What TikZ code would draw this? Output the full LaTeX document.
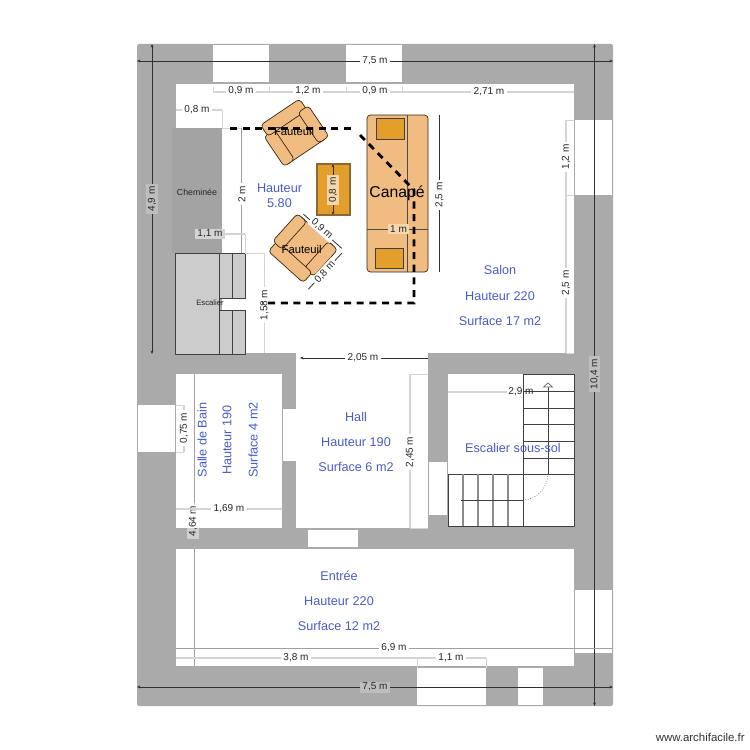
\documentclass[tikz,border=0pt]{standalone}
\usepackage{fontspec}
\setmainfont{Liberation Sans}
\usetikzlibrary{arrows.meta}
\definecolor{wallc}{HTML}{AAAAAA}
\definecolor{chimc}{HTML}{A3A3A3}
\definecolor{stairc}{HTML}{CCCCCC}
\definecolor{sofac}{HTML}{F0BC82}
\definecolor{cushc}{HTML}{E39E2C}
\definecolor{tableline}{HTML}{8A6A2E}
\definecolor{bluec}{HTML}{4A5CC9}
\definecolor{lightdim}{HTML}{D4D4D4}
\definecolor{middim}{HTML}{A0A0A0}
\definecolor{darkdim}{HTML}{303030}
\definecolor{lblgray}{HTML}{BEBEBE}
\definecolor{lbltan}{HTML}{F4D7AE}
\tikzset{
  x=0.02cm,y=-0.02cm,
  wallshape/.style={fill=wallc,draw=none,rounded corners=1.2pt},
  roomshape/.style={fill=white,draw=none},
  stairblock/.style={fill=stairc,draw=black!75,line width=0.45pt},
  stairline/.style={draw=black!75,line width=0.45pt},
  stairlight/.style={draw=black!45,line width=0.6pt},
  sofashape/.style={fill=sofac,draw=black!70!brown,line width=0.4pt,rounded corners=2pt},
  cushion/.style={fill=cushc,draw=black!75,line width=0.5pt},
  tablesh/.style={fill=cushc,draw=tableline,line width=0.6pt},
  roomlabel/.style={text=bluec,font=\fontsize{7.2}{8.6}\selectfont,inner sep=0pt,align=center},
  dimlabel/.style={font=\fontsize{5.7}{6.8}\selectfont,inner xsep=1.4pt,inner ysep=0.8pt,text=black!85,fill=white},
  dimlight/.style={draw=lightdim,line width=0.6pt},
  dimmid/.style={draw=middim,line width=0.45pt},
  dimdark/.style={draw=darkdim,line width=0.45pt},
  dimtick/.style={draw=lightdim,line width=0.4pt},
  tips/.style={{Stealth[length=2pt,width=1.6pt]}-{Stealth[length=2pt,width=1.6pt]}},
  onetip/.style={-{Stealth[length=2pt,width=1.6pt]}},
  dashline/.style={draw=black,line width=1.6pt,dash pattern=on 4pt off 3.2pt},
}
\newcommand{\dimline}[9]{%
  \coordinate (#1-a) at (#3);
  \coordinate (#1-b) at (#4);
  \draw[#2] (#1-a) -- (#1-b);
  \node[dimlabel,rotate=#6,fill=#7] (#1) at (#5) {#8#9};
}
% x, y, rotation, name, label x, label y
\newcommand{\armchair}[6]{%
  \begin{scope}[shift={(#1,#2)},rotate=#3]
    \draw[sofashape] (-24,-18) rectangle (24,18);
    \draw[sofashape] (-27,-18) rectangle (-14.5,18);
    \draw[sofashape] (-23.5,-29.5) rectangle (23.5,-16);
    \draw[sofashape] (14.5,-19) rectangle (27,18);
  \end{scope}
  \node[font=\fontsize{6.4}{7.6}\selectfont,inner sep=0pt] (#4) at (#5,#6) {Fauteuil};
}
\begin{document}
\begin{tikzpicture}
\useasboundingbox (0,0) rectangle (750,750);
\fill[white] (0,0) rectangle (750,750);
% walls
\draw[wallshape] (137,44) rectangle (613,706);
% rooms
\fill[roomshape] (176,84) rectangle (574,128);
\fill[roomshape] (222,128) rectangle (574,353);
\fill[roomshape] (296,353) rectangle (428,528);
\fill[roomshape] (176,374) rectangle (282,528);
\fill[roomshape] (448,374) rectangle (574,527);
\fill[roomshape] (176,549) rectangle (574,666);
% openings
\fill[roomshape] (213,45) rectangle (269,82);
\fill[roomshape] (346,45) rectangle (402,82);
\fill[roomshape] (575,120) rectangle (612,195);
\fill[roomshape] (138,405) rectangle (175,452);
\fill[roomshape] (283,409) rectangle (296,461);
\fill[roomshape] (429,462) rectangle (447,515);
\fill[roomshape] (308,530) rectangle (358,547);
\fill[roomshape] (575,590) rectangle (612,653);
\fill[roomshape] (417,668) rectangle (486,705);
\fill[roomshape] (518,668) rectangle (543,705);
% chimney
\fill[chimc] (172,128) rectangle (222,253);
% fireplace stairs
\draw[stairblock] (175,253) rectangle (219,354);
\draw[stairblock] (219,253) rectangle (232,298);
\draw[stairblock] (232,253) rectangle (245,298);
\draw[stairblock] (219,310) rectangle (232,354);
\draw[stairblock] (232,310) rectangle (245,354);
% basement stairs
\draw[stairline] (523,374) rectangle (574,474);
\draw[stairline] (448,474) rectangle (574,526);
\draw[stairline] (523,474) -- (523,526);
\foreach \yy in {391.5,408,424.5,441.5,458}{\draw[stairline] (523,\yy) -- (574,\yy);}
\foreach \xx in {463,478,493,508}{\draw[stairlight] (\xx,474) -- (\xx,526);}
\coordinate (stA) at (461,500);
\coordinate (stB) at (523,500);
\coordinate (stC) at (548,474);
\coordinate (stD) at (548,384);
\draw[stairline] (stA) -- (stB);
\draw[black!60,line width=0.4pt,densely dotted] (stB) .. controls (537,500) and (548,487) .. (stC);
\draw[stairline] (stC) -- (stD);
\draw[black!60,line width=0.4pt,fill=white] (543.5,387) -- (548,383) -- (552.5,387) -- cycle;
% furniture
\draw[sofashape] (367,115) rectangle (428,272);
\draw[black!70,line width=0.45pt] (407,115) -- (407,272);
\draw[black!70,line width=0.45pt] (367,229) -- (428,229);
\draw[cushion] (376,118) rectangle (404,139);
\draw[cushion] (375,248) rectangle (403,268);
\draw[tablesh] (317,164) rectangle (350,215);
\armchair{296.5}{136.5}{34}{chairA}{294}{131}
\armchair{305.5}{245}{138}{chairB}{301.7}{249}
% extension ticks
\foreach \xx in {213,269,346,402}{\draw[dimtick] (\xx,87) -- (\xx,93);}
\draw[dimtick] (222,110) -- (222,128);
\draw[dimtick] (222,128) -- (241.5,128);
\draw[dimtick] (245,234) -- (245,253);
\draw[dimtick] (245,253) -- (264.5,253);
\draw[dimtick] (566,120) -- (574,120);
\draw[dimtick] (566,195) -- (574,195);
\draw[dimtick] (566,353) -- (574,353);
\draw[dimtick] (410,374) -- (428,374);
\draw[dimtick] (410,528) -- (428,528);
\draw[dimtick] (176,405) -- (184,405);
\draw[dimtick] (176,452) -- (184,452);
\draw[dimtick] (417,658) -- (417,668);
\draw[dimtick] (486,658) -- (486,668);
% dimensions
\dimline{dTop}{dimdark,tips}{137,61}{613,61}{375,60.5}{0}{white}{}{7,5 m}
\dimline{dLeft}{dimdark,tips}{152,44}{152,354}{152,199}{90}{lblgray}{}{4,9 m}
\dimline{dRight}{dimdark,tips}{594.5,44}{594.5,706}{594.5,374}{90}{lblgray}{}{10,4 m}
\dimline{dA}{dimlight}{213,92}{269,92}{241,91}{0}{white}{}{0,9 m}
\dimline{dB}{dimlight}{269,92}{346,92}{308,91}{0}{white}{}{1,2 m}
\dimline{dC}{dimlight}{346,92}{402,92}{375,91}{0}{white}{}{0,9 m}
\dimline{dD}{dimlight}{402,92}{574,92}{489,92}{0}{white}{}{2,71 m}
\dimline{dE}{dimlight}{176,110}{222,110}{197,110}{0}{white}{}{0,8 m}
\dimline{dF}{dimmid}{241.5,128}{241.5,253}{242,194}{90}{white}{}{2 m}
\dimline{dG}{dimlight}{222,234}{245,234}{210,234}{0}{lightdim}{}{1,1 m}
\dimline{dH}{dimlight}{264.5,253}{264.5,353}{264.5,305}{90}{white}{}{1,58 m}
\dimline{dI}{dimdark,onetip}{428,358}{300,358}{363,358}{0}{white}{}{2,05 m}
\dimline{dJ}{dimlight}{410,374}{410,528}{410,452}{90}{white}{}{2,45 m}
\dimline{dK}{dimlight}{184,405}{184,452}{184,428}{90}{white}{}{0,75 m}
\coordinate (dL-a) at (194.5,374);
\coordinate (dL-b) at (194.5,505);
\coordinate (dL-c) at (194.5,549);
\coordinate (dL-d) at (194.5,666);
\draw[dimmid] (dL-a) -- (dL-b);
\draw[dimmid] (dL-c) -- (dL-d);
\node[dimlabel,rotate=90,fill=white,fill opacity=0.45,text opacity=1] (dL) at (193,521) {4,64 m};
\dimline{dM}{dimlight}{176,509}{282,509}{229,509}{0}{white}{}{1,69 m}
\dimline{dN}{dimmid}{176,648}{612,648}{394,648}{0}{white}{}{6,9 m}
\dimline{dO}{dimlight}{176,658}{417,658}{296,658}{0}{white}{}{3,8 m}
\dimline{dP}{dimlight}{417,658}{486,658}{451,658}{0}{white}{}{1,1 m}
\dimline{dQ}{dimdark,tips}{137,687}{613,687}{375,687}{0}{lblgray}{}{7,5 m}
\dimline{dR}{dimlight}{566,120}{566,195}{566,157}{90}{white}{}{1,2 m}
\dimline{dS}{dimlight}{566,195}{566,353}{566,283}{90}{white}{}{2,5 m}
\dimline{dT}{dimdark}{439.5,115}{439.5,272}{439.5,195}{90}{white}{}{2,5 m}
\dimline{dU}{draw=none}{367,229}{428,229}{398.5,229}{0}{lbltan}{}{1 m}
\dimline{dV}{dimdark,tips}{333,164}{333,215}{333,190}{90}{lbltan}{}{0,8 m}
\dimline{dW}{dimdark}{303.3,214}{341.7,248.3}{322,229}{-42}{white}{}{0,9 m}
\dimline{dX}{dimdark}{341.7,253.3}{308.3,289.3}{325,272}{47}{white}{}{0,8 m}
% 2,9 m
\coordinate (dY-a) at (448,392);
\coordinate (dY-b) at (507,392);
\draw[dimlight] (dY-a) -- (dY-b);
\node[font=\fontsize{5.7}{6.8}\selectfont,inner sep=0pt,text=black!85] (dY) at (521,392) {2,9 m};
% room labels
\node[roomlabel] (hSalonA) at (279.5,196) {Hauteur\\[0pt]5.80};
\node[roomlabel] (salonA) at (500,270) {Salon};
\node[roomlabel] (salonB) at (500,296) {Hauteur 220};
\node[roomlabel] (salonC) at (500,321) {Surface 17 m2};
\node[roomlabel] (hallA) at (356,417) {Hall};
\node[roomlabel] (hallB) at (356,442) {Hauteur 190};
\node[roomlabel] (hallC) at (356,467) {Surface 6 m2};
\node[roomlabel,rotate=90] (bainA) at (202,440) {Salle de Bain};
\node[roomlabel,rotate=90] (bainB) at (227,440) {Hauteur 190};
\node[roomlabel,rotate=90] (bainC) at (253,440) {Surface 4 m2};
\node[roomlabel] (sousSol) at (513,448) {Escalier sous-sol};
\node[roomlabel] (entA) at (339,576) {Entrée};
\node[roomlabel] (entB) at (339,601) {Hauteur 220};
\node[roomlabel] (entC) at (339,626) {Surface 12 m2};
\node[font=\fontsize{5}{6}\selectfont,inner sep=0pt,text=black!85] (chem) at (197,192) {Cheminée};
\node[font=\fontsize{4.4}{5}\selectfont,inner sep=0pt,text=black!85] (esc) at (210,303) {Escalier};
\node[font=\fontsize{8.95}{10}\selectfont,inner sep=0pt] (canape) at (397,193) {Canapé};
% dashed outline
\coordinate (daA) at (230,128.7);
\coordinate (daB) at (355,128.7);
\coordinate (daB2) at (360,135);
\coordinate (daC) at (414,190);
\coordinate (daD) at (414,303);
\coordinate (daE) at (262,303);
\draw[dashline] (daA) -- (daB);
\draw[dashline] (daB2) -- (daC) -- (daD) -- (daE);
% credit
\node[font=\fontsize{6.5}{8}\selectfont,inner sep=0pt,anchor=east,text=black!80] (credit) at (745,737) {www.archifacile.fr};
\end{tikzpicture}
\end{document}
